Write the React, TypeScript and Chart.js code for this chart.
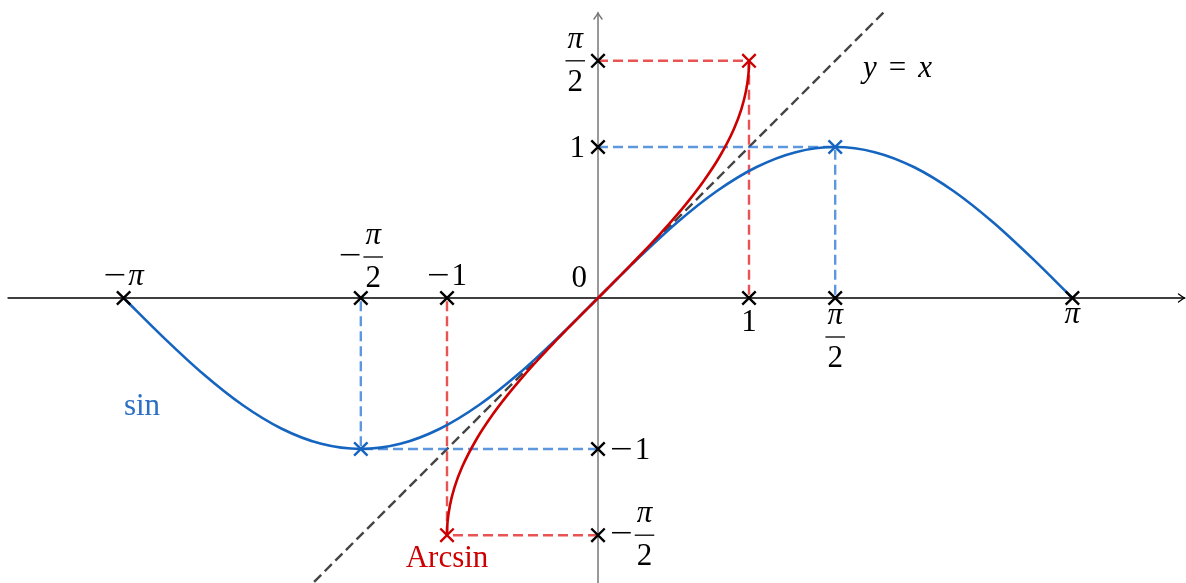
import { useEffect, useRef } from 'react';
import { Chart, registerables } from 'chart.js';

Chart.register(...registerables);

// Curve samples
const sinX = [-3.1416, -2.8798, -2.618, -2.3562, -2.0944, -1.8326, -1.5708, -1.309, -1.0472, -0.7854, -0.5236, -0.2618, 0, 0.2618, 0.5236, 0.7854, 1.0472, 1.309, 1.5708, 1.8326, 2.0944, 2.3562, 2.618, 2.8798, 3.1416];
const sinY = [0, -0.2588, -0.5, -0.7071, -0.866, -0.9659, -1, -0.9659, -0.866, -0.7071, -0.5, -0.2588, 0, 0.2588, 0.5, 0.7071, 0.866, 0.9659, 1, 0.9659, 0.866, 0.7071, 0.5, 0.2588, 0];
const asinX = [-1, -0.999, -0.995, -0.98, -0.95, -0.9, -0.8, -0.7, -0.6, -0.5, -0.4, -0.3, -0.2, -0.1, 0, 0.1, 0.2, 0.3, 0.4, 0.5, 0.6, 0.7, 0.8, 0.9, 0.95, 0.98, 0.995, 0.999, 1];
const asinY = [-1.5708, -1.5261, -1.4708, -1.3705, -1.2532, -1.1198, -0.9273, -0.7754, -0.6435, -0.5236, -0.4115, -0.3047, -0.2014, -0.1002, 0, 0.1002, 0.2014, 0.3047, 0.4115, 0.5236, 0.6435, 0.7754, 0.9273, 1.1198, 1.2532, 1.3705, 1.4708, 1.5261, 1.5708];
const diagX = [-1.88, 1.89];
const diagY = [-1.88, 1.89];

// Marked points (extrema of sin, endpoints of Arcsin)
const sinMarkX = [1.5708, -1.5708];
const sinMarkY = [1, -1];
const asinMarkX = [1, -1];
const asinMarkY = [1.5708, -1.5708];

// Axis ticks
const xTicks = [-3.1416, -1.5708, -1, 1, 1.5708, 3.1416];
const xTickLabels = ['−π', '−π/2', '−1', '1', 'π/2', 'π'];
const yTicks = [1.5708, 1, -1, -1.5708];
const yTickLabels = ['π/2', '1', '−1', '−π/2'];

// Visible window
const X_MIN = -3.9603;
const X_MAX = 3.894;
const Y_MIN = -1.8874;
const Y_MAX = 1.9735;

const BLUE = '#1565c0';
const BLUE_DASH = 'rgba(30,112,210,0.72)';
const RED = '#cc0000';
const RED_DASH = 'rgba(225,25,25,0.75)';
const FAMILY = '"Liberation Serif", "DejaVu Serif", serif';
const REG = `31px ${FAMILY}`;
const ITA = `italic 31px ${FAMILY}`;
const MINUS_STRETCH = 1.3;

const pts = (xs: number[], ys: number[]) => xs.map((x, i) => ({ x, y: ys[i] }));

type HAlign = 'center' | 'left' | 'right';
type VAnchor = 'above' | 'below' | 'middle';

// Math-style minus sign, a little wider than the text font's own
function fillMinus(ctx: CanvasRenderingContext2D, x: number, base: number) {
  ctx.save();
  ctx.font = REG;
  ctx.textAlign = 'left';
  ctx.translate(x, base);
  ctx.scale(MINUS_STRETCH, 1);
  ctx.fillText('−', 0, 0);
  ctx.restore();
}

function drawTickLabel(ctx: CanvasRenderingContext2D, label: string, x: number, y: number, h: HAlign, v: VAnchor) {
  const neg = label.startsWith('−');
  const body = neg ? label.slice(1) : label;
  const kind = body === 'π/2' ? 'frac' : body === 'π' ? 'pi' : 'num';

  ctx.font = REG;
  const wm = neg ? ctx.measureText('−').width * MINUS_STRETCH + 2 : 0;
  let wb: number;
  if (kind === 'frac') {
    ctx.font = ITA;
    const wn = ctx.measureText('π').width;
    ctx.font = REG;
    const wd = ctx.measureText('2').width;
    wb = Math.max(wn, wd) + 4;
  } else if (kind === 'pi') {
    ctx.font = ITA;
    wb = ctx.measureText('π').width;
  } else {
    ctx.font = REG;
    wb = ctx.measureText(body).width;
  }
  const W = wm + wb;
  const left = h === 'center' ? x - W / 2 : h === 'left' ? x : x - W;

  ctx.textAlign = 'left';
  ctx.textBaseline = 'alphabetic';
  ctx.fillStyle = '#000';

  if (kind === 'frac') {
    const bar = v === 'above' ? y - 41 : v === 'below' ? y + 39 : y;
    if (neg) fillMinus(ctx, left, bar + 8);
    const cx = left + wm + wb / 2;
    ctx.font = ITA;
    ctx.textAlign = 'center';
    ctx.fillText('π', cx, bar - 13);
    ctx.font = REG;
    ctx.fillText('2', cx, bar + 30);
    ctx.beginPath();
    ctx.lineWidth = 1.3;
    ctx.strokeStyle = '#000';
    ctx.moveTo(left + wm, bar);
    ctx.lineTo(left + wm + wb, bar);
    ctx.stroke();
    ctx.textAlign = 'left';
  } else {
    let base: number;
    if (v === 'above') base = y - 13;
    else if (v === 'below') base = kind === 'pi' ? y + 25 : y + 33;
    else base = y + 10;
    if (neg) fillMinus(ctx, left, base);
    ctx.font = kind === 'pi' ? ITA : REG;
    ctx.fillText(body, left + wm, base);
  }
}

function arrowHead(ctx: CanvasRenderingContext2D, tx: number, ty: number, dx: number, dy: number) {
  // TikZ-like "to" tip pointing along (dx, dy)
  const px = -dy;
  const py = dx;
  ctx.beginPath();
  ctx.moveTo(tx - dx * 6 + px * 4, ty - dy * 6 + py * 4);
  ctx.quadraticCurveTo(tx - dx * 2 + px * 1, ty - dy * 2 + py * 1, tx, ty);
  ctx.quadraticCurveTo(tx - dx * 2 - px * 1, ty - dy * 2 - py * 1, tx - dx * 6 - px * 4, ty - dy * 6 - py * 4);
  ctx.stroke();
}

const axesPlugin = {
  id: 'originAxes',
  beforeDatasetsDraw(chart: any) {
    const { ctx, chartArea, scales } = chart;
    const ox = scales.x.getPixelForValue(0);
    const oy = scales.y.getPixelForValue(0);
    ctx.save();
    ctx.lineCap = 'round';
    // horizontal axis
    ctx.strokeStyle = '#000';
    ctx.lineWidth = 1.3;
    ctx.beginPath();
    ctx.moveTo(chartArea.left + 8, oy);
    ctx.lineTo(chartArea.right - 1.5, oy);
    ctx.stroke();
    arrowHead(ctx, chartArea.right - 1.5, oy, 1, 0);
    // vertical axis
    ctx.strokeStyle = '#777';
    ctx.lineWidth = 1.5;
    ctx.beginPath();
    ctx.moveTo(ox, chartArea.bottom);
    ctx.lineTo(ox, chartArea.top + 13);
    ctx.stroke();
    arrowHead(ctx, ox, chartArea.top + 13, 0, -1);
    ctx.restore();
  },
};

const labelsPlugin = {
  id: 'mathLabels',
  afterDatasetsDraw(chart: any) {
    const { ctx, scales } = chart;
    const sx = scales.x;
    const sy = scales.y;
    const ox = sx.getPixelForValue(0);
    const oy = sy.getPixelForValue(0);
    ctx.save();
    xTicks.forEach((t, i) => {
      drawTickLabel(ctx, xTickLabels[i], sx.getPixelForValue(t), oy, 'center', t < 0 ? 'above' : 'below');
    });
    yTicks.forEach((t, i) => {
      const py = sy.getPixelForValue(t);
      if (t > 0) drawTickLabel(ctx, yTickLabels[i], ox - 13, py, 'right', 'middle');
      else drawTickLabel(ctx, yTickLabels[i], ox + 12, py, 'left', 'middle');
    });
    // origin
    ctx.font = REG;
    ctx.fillStyle = '#000';
    ctx.textAlign = 'right';
    ctx.fillText('0', ox - 11, oy - 11);

    // curve names
    ctx.textAlign = 'center';
    ctx.fillStyle = '#2a6fc4';
    ctx.fillText('sin', sx.getPixelForValue(-3.02), sy.getPixelForValue(-0.775));
    ctx.fillStyle = RED;
    ctx.fillText('Arcsin', sx.getPixelForValue(-1.0), sy.getPixelForValue(-1.78));

    // y = x
    ctx.fillStyle = '#000';
    ctx.textAlign = 'left';
    let lx = sx.getPixelForValue(1.755);
    const ly = sy.getPixelForValue(1.464);
    ctx.font = ITA;
    ctx.fillText('y', lx, ly);
    lx += ctx.measureText('y').width + 12;
    ctx.font = REG;
    ctx.fillText('=', lx, ly);
    lx += ctx.measureText('=').width + 12;
    ctx.font = ITA;
    ctx.fillText('x', lx, ly);
    ctx.restore();
  },
};

export default function App() {
  const ref = useRef<HTMLCanvasElement>(null);

  useEffect(() => {
    const canvas = ref.current;
    if (!canvas) return;

    const guide = (x: number, y: number) => [
      { x: 0, y },
      { x, y },
      { x, y: 0 },
    ];
    const dashed = (data: any[], color: string, order: number) => ({
      data,
      showLine: true,
      borderColor: color,
      borderWidth: 2.4,
      borderDash: [10, 5],
      pointRadius: 0,
      fill: false,
      order,
    });
    const crosses = (data: any[], color: string, order: number) => ({
      data,
      showLine: false,
      pointStyle: 'crossRot',
      pointRadius: 9.5,
      pointBorderWidth: 2.4,
      borderColor: color,
      backgroundColor: 'transparent',
      order,
    });

    const axisMarks = [
      ...xTicks.map((x) => ({ x, y: 0 })),
      ...yTicks.map((y) => ({ x: 0, y })),
    ];

    const chart = new Chart(canvas, {
      type: 'scatter',
      data: {
        datasets: [
          dashed(pts(diagX, diagY), 'rgba(35,35,35,0.85)', 10),
          ...sinMarkX.map((x, i) => dashed(guide(x, sinMarkY[i]), BLUE_DASH, 9)),
          ...asinMarkX.map((x, i) => dashed(guide(x, asinMarkY[i]), RED_DASH, 9)),
          {
            data: pts(sinX, sinY),
            showLine: true,
            borderColor: BLUE,
            borderWidth: 2.6,
            pointRadius: 0,
            cubicInterpolationMode: 'monotone',
            order: 6,
          },
          {
            data: pts(asinX, asinY),
            showLine: true,
            borderColor: RED,
            borderWidth: 2.6,
            pointRadius: 0,
            cubicInterpolationMode: 'monotone',
            order: 5,
          },
          crosses(pts(sinMarkX, sinMarkY), BLUE, 2),
          crosses(pts(asinMarkX, asinMarkY), RED, 2),
          crosses(axisMarks, '#000', 1),
        ] as any,
      },
      options: {
        animation: false,
        responsive: false,
        devicePixelRatio: 1,
        events: [],
        layout: { padding: 0, autoPadding: false },
        plugins: {
          legend: { display: false },
          tooltip: { enabled: false },
        },
        scales: {
          x: { type: 'linear', display: false, min: X_MIN, max: X_MAX },
          y: { type: 'linear', display: false, min: Y_MIN, max: Y_MAX },
        },
      },
      plugins: [axesPlugin, labelsPlugin],
    });

    return () => chart.destroy();
  }, []);

  return (
    <div style={{ position: 'fixed', left: 0, top: 0, width: 1186, height: 583, background: '#fff' }}>
      <canvas ref={ref} width={1186} height={583} style={{ display: 'block' }} />
    </div>
  );
}
